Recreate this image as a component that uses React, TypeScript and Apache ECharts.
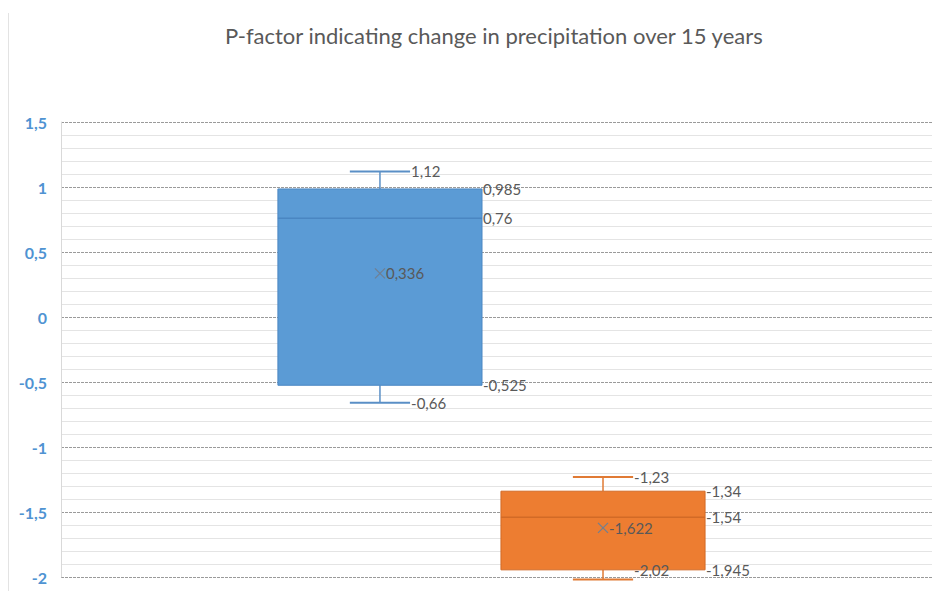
import React, { useEffect, useRef } from "react";
import * as echarts from "echarts";

const TITLE = "P-factor indicating change in precipitation over 15 years";
const SERIES_NAMES = ["Series 1", "Series 2"];
// [min, q1, median, q3, max, mean]
const MINS = [-0.66, -2.02];
const Q1S = [-0.525, -1.945];
const MEDIANS = [0.76, -1.54];
const Q3S = [0.985, -1.34];
const MAXS = [1.12, -1.23];
const MEANS = [0.336, -1.622];
const FILLS = ["#5B9BD5", "#ED7D31"];
const MEDIAN_COLORS = ["#4A86C2", "#D26A26"];
const WHISKER_COLORS = ["#5A8FC6", "#E07A34"];
const Y_MIN = -2;
const Y_MAX = 1.5;
const Y_INTERVAL = 0.5;
const X_MIN = -1.43;
const X_MAX = 2.475;
const BOX_W = 0.915;
const CAP_W = 0.27;

const FONT = "Lato, 'Open Sans', sans-serif";
const fmt = (v: number) => String(v).replace(".", ",");

export default function App() {
  const ref = useRef<HTMLDivElement>(null);
  useEffect(() => {
    if (!ref.current) return;
    const chart = echarts.init(ref.current, null, { renderer: "svg" });
    const data = SERIES_NAMES.map((_, i) => [i, MINS[i], Q1S[i], MEDIANS[i], Q3S[i], MAXS[i], MEANS[i]]);
    const labelFont = { fontSize: 15, fontFamily: FONT, fill: "#595959" };
    const option: any = {
      animation: false,
      backgroundColor: "#ffffff",
      title: {
        text: TITLE,
        left: 220,
        top: 19,
        textStyle: { fontSize: 22, fontWeight: "normal", color: "#595959", fontFamily: FONT },
      },
      grid: { left: 61, right: 0, top: 122, bottom: 14 },
      xAxis: {
        type: "value",
        min: X_MIN,
        max: X_MAX,
        show: false,
        splitLine: { show: false },
      },
      yAxis: {
        type: "value",
        min: Y_MIN,
        max: Y_MAX,
        interval: Y_INTERVAL,
        axisLine: { show: true, onZero: false, lineStyle: { color: "#d9d9d9", width: 1 } },
        axisTick: { show: false },
        axisLabel: {
          formatter: (v: number) => fmt(v),
          color: "#4F93D2",
          fontWeight: "bold",
          fontSize: 16,
          margin: 14,
          fontFamily: FONT,
        },
        splitLine: { show: true, lineStyle: { color: "#9a9a9a", type: [3, 1], width: 1 } },
        minorTick: { show: false, splitNumber: 5 },
        minorSplitLine: { show: true, lineStyle: { color: "#e4e4e4", width: 1 } },
      },
      graphic: [
        { type: "line", shape: { x1: 8.5, y1: 13, x2: 8.5, y2: 591 }, style: { stroke: "#e3e3e3", lineWidth: 1 }, silent: true },
      ],
      series: [
        {
          type: "custom",
          clip: false,
          data,
          encode: { x: 0, y: [1, 2, 3, 4, 5] },
          renderItem: (params: any, api: any) => {
            const i = params.dataIndex;
            const x = api.value(0);
            const vMin = api.value(1), vQ1 = api.value(2), vMed = api.value(3), vQ3 = api.value(4), vMax = api.value(5), vMean = api.value(6);
            const c = api.coord([x, vMed]);
            const cx = c[0];
            const y = (v: number) => api.coord([x, v])[1];
            const bottomY = api.coord([x, Y_MIN])[1];
            const bw = api.size([BOX_W, 0])[0];
            const cw = api.size([CAP_W, 0])[0];
            const yMin = y(vMin), yQ1 = y(vQ1), yMed = y(vMed), yQ3 = y(vQ3), yMax = y(vMax), yMean = y(vMean);
            const left = cx - bw / 2, right = cx + bw / 2;
            const wc = WHISKER_COLORS[i];
            const clampY = (yy: number) => Math.min(yy, bottomY - 7);
            const label = (text: string, lx: number, ly: number) => ({
              type: "text",
              x: lx,
              y: clampY(ly),
              style: { text, ...labelFont, align: "left", verticalAlign: "middle" },
            });
            const m = 5;
            return {
              type: "group",
              children: [
                { type: "line", shape: { x1: cx, y1: yMax, x2: cx, y2: yQ3 }, style: { stroke: wc, lineWidth: 1.5 } },
                { type: "line", shape: { x1: cx, y1: yQ1, x2: cx, y2: yMin }, style: { stroke: wc, lineWidth: 1.5 } },
                { type: "line", shape: { x1: cx - cw / 2, y1: yMax, x2: cx + cw / 2, y2: yMax }, style: { stroke: wc, lineWidth: 2 } },
                { type: "line", shape: { x1: cx - cw / 2, y1: yMin, x2: cx + cw / 2, y2: yMin }, style: { stroke: wc, lineWidth: 2 } },
                { type: "rect", shape: { x: left, y: yQ3, width: bw, height: yQ1 - yQ3 }, style: { fill: FILLS[i], stroke: MEDIAN_COLORS[i], lineWidth: 1 } },
                { type: "line", shape: { x1: left, y1: yMed, x2: right, y2: yMed }, style: { stroke: MEDIAN_COLORS[i], lineWidth: 1.5 } },
                { type: "line", shape: { x1: cx - m, y1: yMean - m, x2: cx + m, y2: yMean + m }, style: { stroke: "#6f7f92", lineWidth: 1.2 } },
                { type: "line", shape: { x1: cx - m, y1: yMean + m, x2: cx + m, y2: yMean - m }, style: { stroke: "#6f7f92", lineWidth: 1.2 } },
                label(fmt(vMax), cx + cw / 2 + 1, yMax),
                label(fmt(vMin), cx + cw / 2 + 1, yMin),
                label(fmt(vQ3), right + 1, yQ3),
                label(fmt(vMed), right + 1, yMed),
                label(fmt(vQ1), right + 1, yQ1),
                label(fmt(vMean), cx + m + 1, yMean),
              ],
            };
          },
        },
      ],
    };
    chart.setOption(option);
    return () => chart.dispose();
  }, []);
  return (
    <div
      ref={ref}
      style={{ position: "fixed", left: 0, top: 0, width: 932, height: 591, background: "#fff" }}
    />
  );
}
